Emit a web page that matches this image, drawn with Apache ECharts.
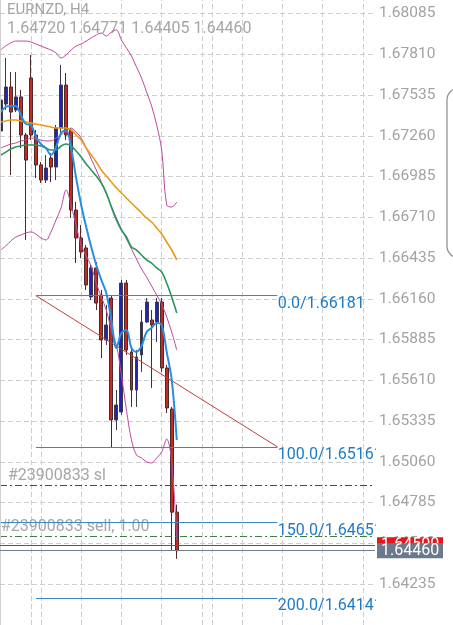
<!DOCTYPE html>
<html><head><meta charset="utf-8">
<script src="https://cdn.jsdelivr.net/npm/echarts@6/dist/echarts.min.js"></script>
<style>html,body{margin:0;padding:0;background:#fff;}#c{width:453px;height:625px;}</style>
</head><body><div id="c"></div>
<script>
// ---------- data ----------
const symbolTitle = 'EURNZD, H4';
const candleIdx = [0,1,2,3,4,5,6,7,8,9,10,11,12,13,14,15,16,17,18,19,20,21,22,23,24,25,26,27,28,29,30,31,32,33,34,35];
const opens  = [1.67292,1.67474,1.67589,1.67434,1.67522,1.67265,1.67650,1.67265,1.67063,1.66961,1.67110,1.67049,1.67312,1.67602,1.67299,1.66759,1.66570,1.66503,1.66172,1.66368,1.66185,1.65882,1.66165,1.65342,1.65396,1.66266,1.65801,1.65544,1.65781,1.66003,1.66017,1.66003,1.66138,1.65693,1.65416,1.64720];
const closes = [1.67501,1.67589,1.67420,1.67522,1.67265,1.67096,1.67265,1.67063,1.66961,1.67042,1.67049,1.67312,1.67602,1.67265,1.66759,1.66570,1.66476,1.66253,1.66368,1.66131,1.65882,1.65983,1.65342,1.65443,1.66266,1.65814,1.65544,1.65767,1.66003,1.66138,1.65983,1.66138,1.65693,1.65423,1.64720,1.64460];
const lows   = [1.67279,1.67434,1.66995,1.67420,1.67177,1.66557,1.67231,1.66975,1.66941,1.66941,1.66948,1.66961,1.67252,1.67231,1.66705,1.66401,1.66435,1.66219,1.66152,1.66084,1.65760,1.65848,1.65153,1.65274,1.65376,1.65781,1.65430,1.65430,1.65666,1.65996,1.65558,1.65868,1.65666,1.65389,1.64465,1.64405];
const highs  = [1.67528,1.67785,1.67690,1.67690,1.67569,1.67279,1.67805,1.67299,1.67083,1.67130,1.67144,1.67333,1.67738,1.67683,1.67312,1.66813,1.66658,1.66523,1.66388,1.66408,1.66219,1.66118,1.66179,1.65544,1.66287,1.66287,1.65828,1.65814,1.66084,1.66165,1.66084,1.66165,1.66165,1.65713,1.65430,1.64771];

const maFast   = [1.67420,1.67454,1.67461,1.67461,1.67400,1.67339,1.67333,1.67252,1.67204,1.67177,1.67130,1.67184,1.67279,1.67299,1.67177,1.66975,1.66793,1.66644,1.66509,1.66388,1.66287,1.66199,1.66017,1.65828,1.65929,1.65949,1.65828,1.65801,1.65841,1.65936,1.65963,1.65996,1.65983,1.65801,1.65612,1.65207];
const maSlow   = [1.67353,1.67360,1.67366,1.67366,1.67360,1.67353,1.67346,1.67339,1.67333,1.67326,1.67319,1.67312,1.67312,1.67312,1.67299,1.67265,1.67231,1.67177,1.67130,1.67083,1.67029,1.66988,1.66948,1.66907,1.66874,1.66840,1.66806,1.66773,1.66739,1.66705,1.66678,1.66638,1.66597,1.66543,1.66489,1.66422];
const maMid    = [1.67130,1.67150,1.67171,1.67184,1.67191,1.67198,1.67198,1.67198,1.67191,1.67177,1.67164,1.67164,1.67191,1.67204,1.67191,1.67157,1.67117,1.67069,1.67029,1.66988,1.66941,1.66874,1.66779,1.66692,1.66624,1.66577,1.66509,1.66489,1.66455,1.66422,1.66401,1.66368,1.66341,1.66266,1.66172,1.66064];
const bbUpper  = [1.67839,1.67866,1.67886,1.67899,1.67899,1.67899,1.67893,1.67879,1.67866,1.67852,1.67839,1.67819,1.67785,1.67805,1.67839,1.67866,1.67879,1.67899,1.67920,1.67940,1.67953,1.67933,1.67960,1.67974,1.67906,1.67852,1.67798,1.67724,1.67650,1.67555,1.67461,1.67333,1.67164,1.66793,1.66779,1.66813];
const bbMiddle = [1.67177,1.67191,1.67204,1.67211,1.67225,1.67231,1.67245,1.67238,1.67231,1.67225,1.67225,1.67245,1.67265,1.67292,1.67312,1.67285,1.67245,1.67177,1.67103,1.67029,1.66948,1.66867,1.66786,1.66705,1.66631,1.66563,1.66496,1.66428,1.66361,1.66307,1.66246,1.66185,1.66125,1.66037,1.65936,1.65814];
const bbLower  = [1.66489,1.66516,1.66550,1.66577,1.66590,1.66604,1.66611,1.66597,1.66570,1.66557,1.66611,1.66692,1.66773,1.66894,1.66793,1.66651,1.66523,1.66449,1.66381,1.66266,1.66172,1.66084,1.65949,1.65848,1.65646,1.65409,1.65207,1.65106,1.65086,1.65059,1.65052,1.65086,1.65126,1.65214,1.65059,1.64532];

const fibLevels = [0.0, 100.0, 150.0, 200.0];
const fibPrices = [1.66181, 1.65161, 1.64651, 1.64141];
const fibStartIdx = 7;
const fibEndIdx = 55;

const orderTicket = '#23900833';
const slPrice = 1.64904;
const openPrice = 1.64560;
const orderLots = 1.00;
const askPrice = 1.64500;
const bidPrice = 1.64460;

const yTickLabels = ['1.68085','1.67810','1.67535','1.67260','1.66985','1.66710','1.66435','1.66160','1.65885','1.65610','1.65335','1.65060','1.64785','1.64510','1.64235'];
const vGridIdx = [6, 8, 16, 24, 32, 40, 42, 48, 56, 64, 72];

// ---------- chart ----------
const FONT = 'Roboto, "Noto Sans", sans-serif';
const xMin = -0.139, xMax = 74.414;
const yMin = 1.639586, yMax = 1.681761;
const yTicks = yTickLabels.map(s => parseFloat(s));

const candleData = candleIdx.map((x, i) => [x, opens[i], closes[i], lows[i], highs[i]]);
const lineOf = arr => arr.map((v, i) => [candleIdx[i], v]);

function lineSeries(arr, color, width, z) {
  return { type: 'line', data: lineOf(arr), showSymbol: false, symbol: 'none', smooth: 0.35,
    silent: true, z: z, lineStyle: { color: color, width: width }, animation: false };
}

const BB = '#bd4a9e';
const dummy = [[0, 1.66]];

const option = {
  animation: false,
  backgroundColor: '#ffffff',
  grid: { left: 0, right: 78, top: 0, bottom: 0 },
  xAxis: { type: 'value', min: xMin, max: xMax, show: false },
  yAxis: {
    type: 'value', position: 'right', min: yMin, max: yMax, z: 10,
    axisLine: { show: true, lineStyle: { color: '#d0d0d0', width: 1 } },
    axisTick: { show: true, inside: true, length: 5, customValues: yTicks, lineStyle: { color: '#b8b8b8' } },
    axisLabel: { customValues: yTicks, formatter: v => v.toFixed(5), color: '#a3a3a3', fontSize: 15.5, fontFamily: FONT, margin: 4 },
    splitLine: { show: false }
  },
  series: [
    { type: 'line', data: dummy, showSymbol: false, lineStyle: { width: 0 }, silent: true,
      markLine: { z: 1, precision: 6, silent: true, symbol: 'none', animation: false, label: { show: false },
        lineStyle: { color: '#cdcdcd', type: [5, 3], width: 1 },
        data: [...yTicks.map(v => ({ yAxis: v })), ...vGridIdx.map(v => ({ xAxis: v }))] } },
    { type: 'candlestick', data: candleData, encode: { x: 0, y: [1, 2, 3, 4] }, barWidth: 3.4, silent: true, z: 2,
      itemStyle: { color: '#2323b4', color0: '#c42a20', borderColor: '#3a3a4a', borderColor0: '#4a2a2a', borderWidth: 1 } },
    lineSeries(bbUpper, BB, 1, 3),
    lineSeries(bbMiddle, BB, 1, 3),
    lineSeries(bbLower, BB, 1, 3),
    lineSeries(maSlow, '#eb9a1a', 1.6, 3),
    lineSeries(maMid, '#27975b', 1.6, 3),
    lineSeries(maFast, '#2a8de4', 2, 4),
    { type: 'line', data: dummy, showSymbol: false, lineStyle: { width: 0 }, silent: true,
      markLine: { z: 4, precision: 6, silent: true, symbol: 'none', animation: false, label: { show: false },
        data: [
          [{ coord: [fibStartIdx, fibPrices[0]], lineStyle: { color: '#c04040', width: 1, type: 'solid' } }, { coord: [fibEndIdx, fibPrices[1]] }],
          [{ coord: [fibStartIdx, fibPrices[0]], lineStyle: { color: '#3c86c2', width: 1, type: 'solid' } }, { coord: [fibEndIdx, fibPrices[0]] }],
          [{ coord: [fibStartIdx, fibPrices[1]], lineStyle: { color: '#3c86c2', width: 1, type: 'solid' } }, { coord: [fibEndIdx, fibPrices[1]] }],
          [{ coord: [xMin, fibPrices[2]], lineStyle: { color: '#3c86c2', width: 1, type: 'solid' } }, { coord: [fibEndIdx, fibPrices[2]] }],
          [{ coord: [fibStartIdx, fibPrices[3]], lineStyle: { color: '#3c86c2', width: 1, type: 'solid' } }, { coord: [fibEndIdx, fibPrices[3]] }],
          { yAxis: slPrice, lineStyle: { color: '#9c2626', width: 1, type: [7, 3, 2, 3] } },
          { yAxis: openPrice, lineStyle: { color: '#3f7f3f', width: 1, type: [7, 3, 2, 3] } }
        ] } },
    { type: 'line', data: dummy, showSymbol: false, lineStyle: { width: 0 }, silent: true,
      markLine: { z: 20, precision: 6, silent: true, symbol: 'none', animation: false,
        data: [
          { yAxis: askPrice, lineStyle: { color: '#c8282a', width: 1, type: 'solid' },
            label: { show: true, position: 'end', distance: 2, formatter: p => Number(p.value).toFixed(5),
              backgroundColor: '#e5161c', color: '#ffffff', fontSize: 16, fontFamily: FONT, lineHeight: 15, padding: [0, 3, 0, 4], width: 59 } },
          { yAxis: bidPrice, lineStyle: { color: '#6f8090', width: 1, type: 'solid' },
            label: { show: true, position: 'end', distance: 2, formatter: p => Number(p.value).toFixed(5),
              backgroundColor: '#6b7a8a', color: '#ffffff', fontSize: 16, fontFamily: FONT, lineHeight: 15, padding: [0, 3, 0, 4], width: 59 } }
        ] } }
  ]
};

const chart = echarts.init(document.getElementById('c'));
chart.setOption(option);

const px = (x, y) => chart.convertToPixel({ gridIndex: 0 }, [x, y]);
const gridRight = px(xMax, yMax)[0];
const last = candleIdx.length - 1;
const g = [];
g.push({ type: 'text', z: 3, x: 7, y: 3, style: { text: symbolTitle, fill: '#a6a6a6', font: '15px ' + FONT, align: 'left', verticalAlign: 'top' } });
g.push({ type: 'text', z: 3, x: 7, y: 21, style: { text: [opens[last], highs[last], lows[last], closes[last]].map(v => v.toFixed(5)).join(' '), fill: '#a6a6a6', font: '16px ' + FONT, align: 'left', verticalAlign: 'top' } });
fibLevels.forEach((lv, k) => {
  const p = px(fibEndIdx, fibPrices[k]);
  g.push({ type: 'text', z: 3, x: p[0] + 0.5, y: p[1] + 0.5, style: { text: lv.toFixed(1) + '/' + fibPrices[k].toFixed(5), fill: '#1f7bc8', font: '16px ' + FONT, align: 'left', verticalAlign: 'top' } });
});
const pSl = px(0, slPrice);
g.push({ type: 'text', z: 3, x: 8, y: pSl[1] - 1, style: { text: orderTicket + ' sl', fill: '#a6a6a6', font: '16px ' + FONT, align: 'left', verticalAlign: 'bottom' } });
const pOp = px(0, openPrice);
g.push({ type: 'text', z: 3, x: 1, y: pOp[1] - 1, style: { text: orderTicket + ' sell, ' + orderLots.toFixed(2), fill: '#a6a6a6', font: '16px ' + FONT, align: 'left', verticalAlign: 'bottom' } });
g.push({ type: 'rect', z: 5, shape: { x: gridRight + 1, y: 0, width: 453 - gridRight, height: 625 }, style: { fill: '#ffffff' } });
g.push({ type: 'rect', z: 21, shape: { x: 447, y: 88, width: 24, height: 170, r: 12 }, style: { fill: 'none', stroke: '#8c8c8c', lineWidth: 1.2 } });
chart.setOption({ graphic: { elements: g } });
</script>
</body></html>
